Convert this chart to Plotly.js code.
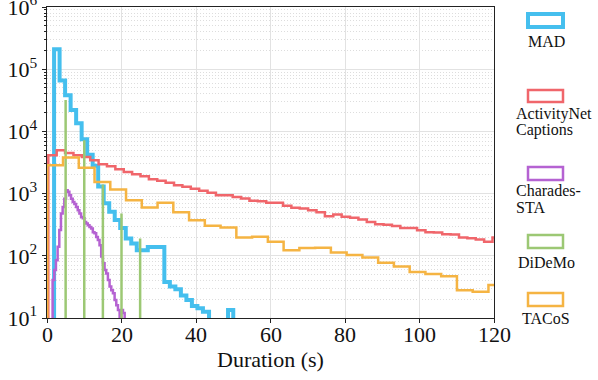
<!DOCTYPE html>
<html>
<head>
<meta charset="utf-8">
<script src="https://cdn.plot.ly/plotly-3.0.1.min.js"></script>
<style>html,body{margin:0;padding:0;background:#fff;}#chart{width:598px;height:380px;}</style>
</head>
<body>
<div id="chart"></div>
<script>
// ---------------- data ----------------
const seriesNames = ["MAD", "ActivityNet Captions", "Charades-STA", "DiDeMo", "TACoS"];

// MAD: bin edges (s) and counts
const madEdges = [1.90, 3.38, 4.86, 6.34, 7.82, 9.30, 10.78, 12.26, 13.74, 15.22, 16.70, 18.18, 19.66,
  21.14, 22.62, 24.10, 25.58, 27.06, 28.54, 30.02, 31.50, 32.98, 34.46, 35.94, 37.42, 38.90, 40.38,
  41.86, 43.50, 48.60, 50.00];
const madCounts = [210000, 66000, 38000, 22000, 13500, 7500, 4200, 2800, 1300, 700, 510, 375, 280,
  190, 158, 123, 123, 139, 139, 139, 38, 32, 29, 23, 19.5, 15.6, 14.3, 12.6, 0, 13.4];

// ActivityNet Captions: regular bins
const anetBinStart = 0.35, anetBinWidth = 2.25;
const anetCounts = [4130, 4980, 4500, 4130, 3880, 3440, 2960, 2750, 2460, 2230, 2050, 1900, 1700, 1610,
  1500, 1360, 1290, 1200, 1110, 1035, 940, 940, 885, 835, 770, 755, 710, 710, 640, 595, 577, 542, 503,
  433, 462, 423, 410, 384, 351, 323, 317, 300, 281, 281, 258, 240, 236, 223, 219, 197, 192, 183, 168, 197];

// Charades-STA: regular bins
const charBinStart = 1.5, charBinWidth = 0.45;
const charCounts = [41, 59, 85, 140, 260, 480, 610, 830, 1130, 1070, 940, 830, 730, 680, 610, 540, 480,
  420, 400, 350, 330, 310, 290, 275, 240, 230, 200, 180, 148, 97, 76, 59, 52, 41, 32, 28, 25, 19.5, 16,
  13.4, 0, 13.4, 12];

// DiDeMo: durations are multiples of 5 s
const didemoDurations = [5, 10, 15, 20, 25];
const didemoCounts = [32000, 7200, 1400, 480, 190];

// TACoS: regular bins
const tacosBinStart = 0.07, tacosBinWidth = 4.23;
const tacosCounts = [2860, 3800, 2610, 1540, 1160, 783, 598, 714, 502, 374, 305, 284, 197, 202, 168, 123,
  134, 135, 113, 103, 94, 77, 67, 55, 51, 47, 28, 26.4, 34];

const xTickVals = [0, 20, 40, 60, 80, 100, 120];
const xTickText = ['0', '20', '40', '60', '80', '100', '120'];
const yTickVals = [10, 100, 1000, 10000, 100000, 1000000];
const yTickText = ['10<sup>1</sup>', '10<sup>2</sup>', '10<sup>3</sup>', '10<sup>4</sup>', '10<sup>5</sup>', '10<sup>6</sup>'];

// ---------------- helpers ----------------
const FLOOR = 0.01; // below the axis range; used for empty bins
function regularEdges(start, width, n) {
  const e = [];
  for (let i = 0; i <= n; i++) e.push(+(start + i * width).toFixed(4));
  return e;
}
function stepXY(edges, counts) {
  const n = counts.length;
  const x = [edges[0]], y = [FLOOR];
  for (let i = 0; i < n; i++) { x.push(edges[i]); y.push(counts[i] > 0 ? counts[i] : FLOOR); }
  x.push(edges[n]); y.push(counts[n - 1] > 0 ? counts[n - 1] : FLOOR);
  x.push(edges[n]); y.push(FLOOR);
  return {x, y};
}
function spikesXY(xs, counts) {
  const x = [], y = [];
  xs.forEach((v, i) => { x.push(v, v, null); y.push(FLOOR, counts[i], null); });
  return {x, y};
}

const colors = {
  mad: '#45BFEE',
  anet: '#F0666B',
  chars: '#B562D2',
  didemo: '#9CC874',
  tacos: '#F5B443'
};

const mad = stepXY(madEdges, madCounts);
const anet = stepXY(regularEdges(anetBinStart, anetBinWidth, anetCounts.length), anetCounts);
const chars = stepXY(regularEdges(charBinStart, charBinWidth, charCounts.length), charCounts);
const did = spikesXY(didemoDurations, didemoCounts);
const tac = stepXY(regularEdges(tacosBinStart, tacosBinWidth, tacosCounts.length), tacosCounts);

function stepTrace(d, name, color, width, shape) {
  return {x: d.x, y: d.y, name, type: 'scatter', mode: 'lines',
    line: {color, width, shape: shape || 'hv'}, connectgaps: false, hoverinfo: 'skip', showlegend: false};
}

const traces = [
  stepTrace(mad, seriesNames[0], colors.mad, 4),
  stepTrace(anet, seriesNames[1], colors.anet, 2.5),
  stepTrace(chars, seriesNames[2], colors.chars, 2.5),
  stepTrace(did, seriesNames[3], colors.didemo, 2.5, 'linear'),
  stepTrace(tac, seriesNames[4], colors.tacos, 2.5)
];

// ---------------- layout ----------------
const W = 598, H = 380;
const L = 47, R = 104, T = 7, B = 62;
const pw = W - L - R, ph = H - T - B;
const px = v => (v - L) / pw;          // pixel x -> paper
const py = v => (H - B - v) / ph;      // pixel y -> paper

const font = 'Liberation Serif';
const legendItems = [
  {color: colors.mad, w: 4, top: 14, bot: 27, lines: [{t: 'MAD', y: 41, center: true}]},
  {color: colors.anet, w: 2.5, top: 90, bot: 102, lines: [{t: 'ActivityNet', y: 114}, {t: 'Captions', y: 130}]},
  {color: colors.chars, w: 2.5, top: 167, bot: 180, lines: [{t: 'Charades-', y: 190}, {t: 'STA', y: 207}]},
  {color: colors.didemo, w: 2.5, top: 235, bot: 248, lines: [{t: 'DiDeMo', y: 262, center: true}]},
  {color: colors.tacos, w: 2.5, top: 293, bot: 306, lines: [{t: 'TACoS', y: 318, center: true}]}
];
const shapes = [], annotations = [];
legendItems.forEach(it => {
  shapes.push({type: 'rect', xref: 'paper', yref: 'paper', x0: px(528), x1: px(563), y0: py(it.bot), y1: py(it.top),
    line: {color: it.color, width: it.w}, fillcolor: 'rgba(0,0,0,0)'});
  it.lines.forEach(l => {
    annotations.push({xref: 'paper', yref: 'paper', x: l.center ? px(546) : px(514), y: py(l.y),
      xanchor: l.center ? 'center' : 'left', yanchor: 'middle', text: l.t, showarrow: false,
      font: {family: font, size: 16, color: '#111'}});
  });
});
// x tick labels placed just under the axis, at the axis' own tick values
xTickVals.forEach((v, i) => {
  annotations.push({xref: 'x', yref: 'paper', x: v, y: py(334.5), xanchor: 'center', yanchor: 'middle',
    text: xTickText[i], showarrow: false, font: {family: font, size: 22, color: '#111'}});
});
annotations.push({xref: 'paper', yref: 'paper', x: 0.5, y: py(359), xanchor: 'center', yanchor: 'middle',
  text: 'Duration (s)', showarrow: false, font: {family: font, size: 22, color: '#111'}});

const layout = {
  width: W, height: H,
  margin: {l: L, r: R, t: T, b: B, pad: 0},
  paper_bgcolor: '#fff', plot_bgcolor: '#fff',
  showlegend: false,
  font: {family: font, size: 22, color: '#111'},
  xaxis: {
    range: [0, 120], tickvals: xTickVals, showticklabels: false,
    ticks: 'outside', ticklen: 4, tickwidth: 1, tickcolor: '#222',
    showgrid: true, gridcolor: '#e2e2e2', gridwidth: 1, zeroline: false,
    showline: true, linecolor: '#222', linewidth: 1.3, mirror: true
  },
  yaxis: {
    type: 'log', range: [1, 6], tickvals: yTickVals, ticktext: yTickText, ticklabeloverflow: 'allow',
    ticks: 'outside', ticklen: 4, tickwidth: 1, tickcolor: '#222',
    showgrid: true, gridcolor: '#e2e2e2', gridwidth: 1, zeroline: false,
    showline: true, linecolor: '#222', linewidth: 1.3, mirror: true,
    tickfont: {family: font, size: 22, color: '#111'},
    minor: {dtick: 'D1', ticks: 'outside', ticklen: 2, tickcolor: '#222', showgrid: true,
      gridcolor: '#d4d4d4', griddash: '1px,2px', gridwidth: 0.8}
  },
  shapes, annotations
};

Plotly.newPlot('chart', traces, layout, {staticPlot: true, displayModeBar: false});
</script>
</body>
</html>
